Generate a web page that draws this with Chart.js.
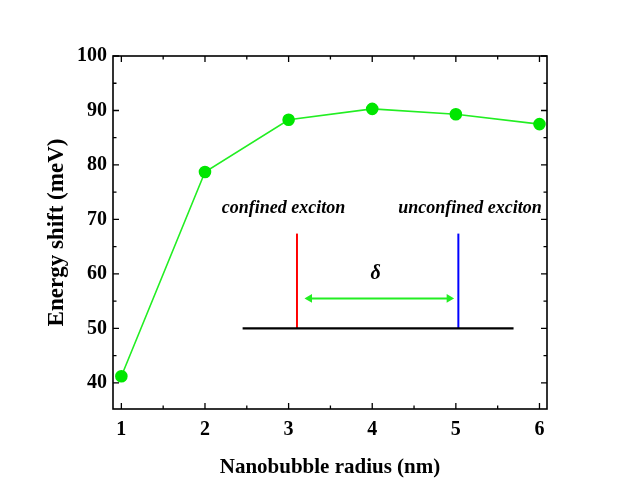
<!DOCTYPE html>
<html>
<head>
<meta charset="utf-8">
<script src="https://cdn.jsdelivr.net/npm/chart.js@4.4.1/dist/chart.umd.min.js"></script>
<style>
  html, body { margin: 0; padding: 0; background: #fff; }
  #wrap { width: 634px; height: 490px; }
</style>
</head>
<body>
<div id="wrap"><canvas id="canvas"></canvas></div>
<script>
// main series
var radius = [1, 2, 3, 4, 5, 6];
var shift = [41.2, 78.7, 88.3, 90.3, 89.3, 87.5];

// axis ticks
var xTicks = [1, 2, 3, 4, 5, 6];
var xMinor = [1.5, 2.5, 3.5, 4.5, 5.5];
var yTicks = [40, 50, 60, 70, 80, 90, 100];
var yMinor = [45, 55, 65, 75, 85, 95];

// inset sketch (data coordinates)
var baseX = [2.45, 5.69];
var baseY = [50, 50];
var redX = [3.1, 3.1];
var redY = [50, 67.4];
var blueX = [5.03, 5.03];
var blueY = [50, 67.4];
var arrowX = [3.25, 4.92];
var arrowY = [55.5, 55.5];
var insetLabels = ["confined exciton", "unconfined exciton", "\u03b4"];
var labelX = [2.94, 5.17, 4.04];
var labelY = [72.1, 72.1, 60.1];

function pts(xs, ys) {
    return xs.map(function (x, i) { return { x: x, y: ys[i] }; });
}

var serif = "'Liberation Serif', 'DejaVu Serif', serif";

var frameAndTicks = {
    id: "frameAndTicks",
    afterDatasetsDraw: function (chart) {
        var ctx = chart.ctx, a = chart.chartArea;
        var sx = chart.scales.x, sy = chart.scales.y;
        ctx.save();
        ctx.strokeStyle = "#000";
        ctx.lineWidth = 1.6;
        ctx.strokeRect(a.left, a.top, a.right - a.left, a.bottom - a.top);
        ctx.lineWidth = 1.3;
        ctx.beginPath();
        function xt(v, len) {
            var p = sx.getPixelForValue(v);
            ctx.moveTo(p, a.bottom); ctx.lineTo(p, a.bottom - len);
            ctx.moveTo(p, a.top); ctx.lineTo(p, a.top + len);
        }
        function yt(v, len) {
            var p = sy.getPixelForValue(v);
            ctx.moveTo(a.left, p); ctx.lineTo(a.left + len, p);
            ctx.moveTo(a.right, p); ctx.lineTo(a.right - len, p);
        }
        xTicks.forEach(function (v) { xt(v, 6); });
        xMinor.forEach(function (v) { xt(v, 3.5); });
        yTicks.forEach(function (v) { yt(v, 6); });
        yMinor.forEach(function (v) { yt(v, 3.5); });
        ctx.stroke();

        // inset labels
        ctx.fillStyle = "#000";
        ctx.textAlign = "center";
        ctx.textBaseline = "middle";
        insetLabels.forEach(function (t, i) {
            ctx.font = (i < 2 ? "italic bold 18px " : "italic bold 20px ") + serif;
            ctx.fillText(t, sx.getPixelForValue(labelX[i]), sy.getPixelForValue(labelY[i]));
        });
        ctx.restore();
    }
};

new Chart(document.getElementById("canvas"), {
    type: "scatter",
    data: {
        datasets: [{
            label: "shift",
            data: pts(radius, shift),
            showLine: true,
            borderColor: "#22ee22",
            borderWidth: 1.6,
            backgroundColor: "#00e600",
            pointBorderColor: "#00e600",
            pointRadius: 5.5,
            pointHoverRadius: 5.5
        }, {
            label: "base",
            data: pts(baseX, baseY),
            showLine: true,
            borderColor: "#000",
            borderWidth: 2.2,
            pointRadius: 0
        }, {
            label: "confined",
            data: pts(redX, redY),
            showLine: true,
            borderColor: "#ff0000",
            borderWidth: 2,
            pointRadius: 0
        }, {
            label: "unconfined",
            data: pts(blueX, blueY),
            showLine: true,
            borderColor: "#0000ff",
            borderWidth: 2,
            pointRadius: 0
        }, {
            label: "delta",
            data: pts(arrowX, arrowY),
            showLine: true,
            borderColor: "#22ee22",
            borderWidth: 2,
            backgroundColor: "#22ee22",
            pointBorderColor: "#22ee22",
            pointStyle: "triangle",
            pointRotation: [-90, 90],
            pointRadius: 3
        }]
    },
    options: {
        responsive: true,
        maintainAspectRatio: false,
        animation: false,
        layout: { padding: { left: 43, right: 87, top: 56, bottom: 0 } },
        plugins: {
            legend: { display: false },
            tooltip: { enabled: false }
        },
        scales: {
            x: {
                type: "linear",
                min: 0.9,
                max: 6.09,
                grid: { display: false, drawTicks: false },
                border: { display: false },
                afterBuildTicks: function (s) { s.ticks = xTicks.map(function (v) { return { value: v }; }); },
                afterFit: function (s) { s.height = 81; },
                ticks: {
                    padding: 9,
                    color: "#000",
                    font: { family: serif, size: 20, weight: "bold" }
                },
                title: {
                    display: true,
                    text: "Nanobubble radius (nm)",
                    color: "#000",
                    padding: { top: 5, bottom: 10 },
                    font: { family: serif, size: 21, weight: "bold" }
                }
            },
            y: {
                min: 35.2,
                max: 100,
                grid: { display: false, drawTicks: false },
                border: { display: false },
                afterBuildTicks: function (s) { s.ticks = yTicks.map(function (v) { return { value: v }; }); },
                afterFit: function (s) { s.width = 70; },
                ticks: {
                    padding: 6,
                    color: "#000",
                    font: { family: serif, size: 20, weight: "bold" }
                },
                title: {
                    display: true,
                    text: "Energy shift (meV)",
                    color: "#000",
                    padding: { top: 0, bottom: 0 },
                    font: { family: serif, size: 23, weight: "bold" }
                }
            }
        }
    },
    plugins: [frameAndTicks]
});
</script>
</body>
</html>
